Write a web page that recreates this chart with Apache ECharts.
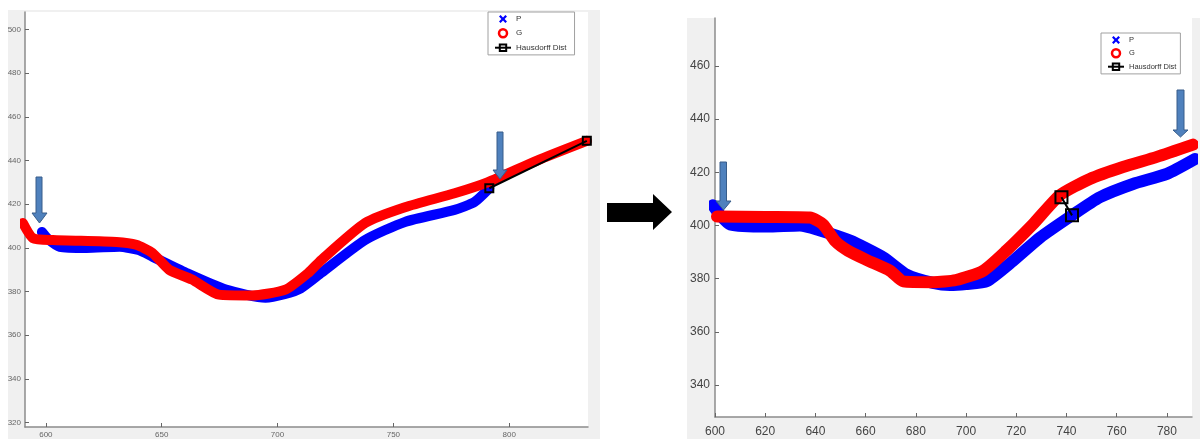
<!DOCTYPE html>
<html>
<head>
<meta charset="utf-8">
<script src="https://cdn.jsdelivr.net/npm/echarts@6/dist/echarts.min.js"></script>
<style>
  html, body { margin: 0; padding: 0; background: #ffffff; }
  #chart { width: 1200px; height: 439px; }
</style>
</head>
<body>
<div id="chart"></div>
<script>
// ---------- data ----------
// Left panel: original curves
var pLeft = [[598.3,407.3],[601,404],[606,400.5],[617.6,400],[631.8,400.5],[640,399],[646,396],[660.5,388.6],[677.7,380.9],[694.8,377.2],[703,378.8],[710,381.5],[718.9,388.6],[737.8,403.6],[755,411.9],[776.4,417.4],[785,421],[791.4,427.3]];
var gLeft = [[590.1,411.4],[594.4,404.5],[603,403.6],[630.5,402.7],[639,401.4],[646,397.7],[653.2,390],[663.1,385.5],[674.7,378.6],[688.8,378.2],[703.4,380.9],[713.3,388.6],[718.9,394.5],[737.8,411.4],[755,418.6],[776.4,425],[790.6,430],[812,440],[833.5,449]];
var hdLeft = [[791.4,427.3],[833.5,449]];

// Right panel: after alignment
var pRight = [[599.2,407.6],[601.5,404.5],[606,400.4],[620.7,399.6],[633.8,400],[640.6,398.5],[653.8,394.3],[667,388],[676.5,381.4],[686.8,378.4],[693.6,377.6],[700,378],[708.3,379.1],[718.7,386.7],[729.4,395.4],[742.2,403.8],[753.3,410.6],[766.5,415.6],[780,419.4],[791.2,425]];
var gRight = [[600.8,403.4],[620,403.2],[637.8,403],[643,400.4],[648,394],[653,390.5],[660.5,387],[669.7,383],[675,379],[686.8,378.7],[696,379.5],[706.7,382.9],[716,390.5],[726.6,400.4],[737.4,411.4],[749.3,417.5],[762.5,422],[776,425.8],[790.4,430.4]];
var hdRight = [[738,410.6],[742.2,403.8]];

// tick labels
var xTicksLeft = [600, 650, 700, 750, 800];
var yTicksLeft = [320, 340, 360, 380, 400, 420, 440, 460, 480, 500];
var xTicksRight = [600, 620, 640, 660, 680, 700, 720, 740, 760, 780];
var yTicksRight = [340, 360, 380, 400, 420, 440, 460];

var seriesNames = ['P', 'G', 'Hausdorff Dist'];

// ---------- chart ----------
var FONT = 'Liberation Sans, Arial, sans-serif';
var chart = echarts.init(document.getElementById('chart'), null, { renderer: 'canvas' });

function valueAxis(gridIndex, min, max, ticks, fontSize, color, margin) {
  return {
    type: 'value', gridIndex: gridIndex, min: min, max: max,
    axisLine: { show: true, onZero: false, lineStyle: { color: '#8c8c8c', width: 1.5 } },
    axisTick: { show: true, inside: true, length: 4, customValues: ticks, lineStyle: { color: '#666' } },
    axisLabel: { show: true, customValues: ticks, fontSize: fontSize, color: color, margin: margin, fontFamily: FONT },
    splitLine: { show: false }
  };
}

function bandSeries(name, data, color, width, xi) {
  return {
    name: name, type: 'line', data: data, xAxisIndex: xi, yAxisIndex: xi,
    symbol: 'none', showSymbol: false, smooth: 0.2, color: color,
    lineStyle: { color: color, width: width, cap: 'round', join: 'round' },
    animation: false, silent: true
  };
}

function hdSeries(data, size, xi) {
  return {
    name: 'Hausdorff Dist', type: 'line', data: data, xAxisIndex: xi, yAxisIndex: xi,
    symbol: 'rect', symbolSize: size, showSymbol: true, color: '#000', clip: false,
    itemStyle: { color: 'rgba(0,0,0,0)', borderColor: '#000', borderWidth: 2 },
    lineStyle: { color: '#000', width: 2 },
    z: 5, animation: false, silent: true
  };
}

var xIcon = 'path://M0,2L2,0L5,3L8,0L10,2L7,5L10,8L8,10L5,7L2,10L0,8L3,5Z';

function legendData() {
  return [
    { name: 'P', icon: xIcon, itemStyle: { color: '#0000ff' } },
    { name: 'G', icon: 'circle', itemStyle: { color: '#ffffff', borderColor: '#ff0000', borderWidth: 2.5 } },
    { name: 'Hausdorff Dist' }
  ];
}

function downArrow(x0, x1, top, base, h0, h1, tipY) {
  var tx = (h0 + h1) / 2;
  return {
    type: 'polygon', silent: true, z: 100,
    shape: { points: [[x0, top], [x1, top], [x1, base], [h1, base], [tx, tipY], [h0, base], [x0, base]] },
    style: { fill: '#4f81bd', stroke: '#385d8a', lineWidth: 1 }
  };
}

var option = {
  backgroundColor: '#ffffff',
  animation: false,
  graphic: [
    { type: 'rect', silent: true, z: -10, shape: { x: 8, y: 10, width: 592, height: 429 }, style: { fill: '#f0f0f0' } },
    { type: 'rect', silent: true, z: -10, shape: { x: 687, y: 18, width: 513, height: 421 }, style: { fill: '#f0f0f0' } },
    downArrow(36, 42, 177, 213, 32, 47, 223),
    downArrow(497, 503, 132, 170, 493, 507, 179),
    downArrow(720, 726.5, 162, 201, 716, 731, 210),
    downArrow(1177, 1184, 90, 130, 1173, 1188, 137),
    {
      type: 'polygon', silent: true, z: 100,
      shape: { points: [[607, 203], [653, 203], [653, 194], [672, 212], [653, 230], [653, 222], [607, 222]] },
      style: { fill: '#000000' }
    }
  ],
  grid: [
    { left: 25, top: 12, width: 563, height: 415, show: true, backgroundColor: '#ffffff', borderWidth: 0, containLabel: false },
    { left: 715, top: 18, width: 477, height: 399, show: true, backgroundColor: '#ffffff', borderWidth: 0, containLabel: false }
  ],
  xAxis: [
    valueAxis(0, 591, 834, xTicksLeft, 8, '#666', 4),
    valueAxis(1, 600, 790, xTicksRight, 12, '#444', 9)
  ],
  yAxis: [
    valueAxis(0, 318, 508, yTicksLeft, 8, '#666', 4),
    valueAxis(1, 328, 478, yTicksRight, 12, '#444', 5)
  ],
  legend: [
    {
      left: 488, top: 12, orient: 'vertical', selectedMode: false,
      itemWidth: 16, itemHeight: 8, itemGap: 5, padding: [3, 8, 3, 6],
      borderColor: '#a0a0a0', borderWidth: 1, backgroundColor: '#ffffff',
      textStyle: { fontSize: 8, color: '#333', fontFamily: FONT },
      data: legendData()
    },
    {
      left: 1101, top: 33, orient: 'vertical', selectedMode: false,
      itemWidth: 16, itemHeight: 8, itemGap: 4, padding: [3, 4, 3, 6],
      borderColor: '#a0a0a0', borderWidth: 1, backgroundColor: '#ffffff',
      textStyle: { fontSize: 7.5, color: '#333', fontFamily: FONT },
      data: legendData()
    }
  ],
  series: [
    bandSeries('P', pLeft, '#0000ff', 10, 0),
    bandSeries('G', gLeft, '#ff0000', 10, 0),
    hdSeries(hdLeft, 8, 0),
    bandSeries('P', pRight, '#0000ff', 12, 1),
    bandSeries('G', gRight, '#ff0000', 12, 1),
    hdSeries(hdRight, 12, 1)
  ]
};

chart.setOption(option);
</script>
</body>
</html>
